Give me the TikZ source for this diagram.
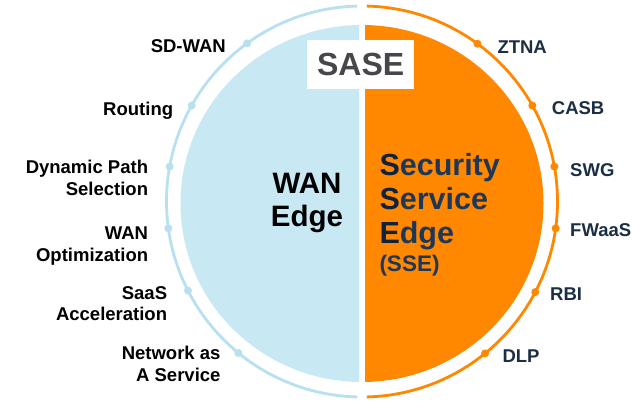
\documentclass[tikz,border=0pt]{standalone}
\usepackage{fontspec}
\setmainfont{Liberation Sans}
\definecolor{lblue}{HTML}{C8E8F3}
\definecolor{rblue}{HTML}{B8E0EF}
\definecolor{sorange}{HTML}{FF8800}
\definecolor{navy}{HTML}{1C2E44}
\definecolor{navyd}{HTML}{10213A}
\definecolor{navyl}{HTML}{1E3756}
\definecolor{sasegray}{HTML}{45474B}
\begin{document}
\begin{tikzpicture}[x=1bp,y=1bp,
  bdot/.style={circle,fill=rblue,inner sep=0,minimum size=8bp},
  odot/.style={circle,fill=sorange,inner sep=0,minimum size=8bp},
  rlab/.style={anchor=base west,inner sep=0,text=navy,font=\fontsize{18.5bp}{21.5bp}\selectfont\bfseries},
  llab/.style={anchor=base east,inner sep=0,text=black,align=right,font=\fontsize{18.5bp}{21.5bp}\selectfont\bfseries}]
\useasboundingbox (0,0) rectangle (633,400);
\fill[white] (0,0) rectangle (633,400);
\coordinate (C) at (362,198.5);
\coordinate (I) at (362,196.5);
% halves
\begin{scope}
\clip (0,0) rectangle (359,400);
\fill[lblue] (I) ellipse [x radius=181.5, y radius=178.5];
\end{scope}
\begin{scope}
\clip (365,0) rectangle (633,400);
\fill[sorange] (I) ellipse [x radius=181.5, y radius=178.5];
\end{scope}
% ring
\draw[rblue,line width=2.8bp] ([shift={(91.4:195.5)}]C) arc[start angle=91.4,end angle=268.6,radius=195.5];
\draw[sorange,line width=2.8bp] ([shift={(88.6:195.5)}]C) arc[start angle=88.6,end angle=-88.6,radius=195.5];
% dots
\node[bdot] (l1) at ([shift={(126:195.5)}]C) {};
\node[bdot] (l2) at ([shift={(150.6:195.5)}]C) {};
\node[bdot] (l3) at ([shift={(169.7:195.5)}]C) {};
\node[bdot] (l4) at ([shift={(187.9:195.5)}]C) {};
\node[bdot] (l5) at ([shift={(207.1:195.5)}]C) {};
\node[bdot] (l6) at ([shift={(230.8:195.5)}]C) {};
\node[odot] (r1) at ([shift={(53.8:195.5)}]C) {};
\node[odot] (r2) at ([shift={(29.4:195.5)}]C) {};
\node[odot] (r3) at ([shift={(10.3:195.5)}]C) {};
\node[odot] (r4) at ([shift={(-7.9:195.5)}]C) {};
\node[odot] (r5) at ([shift={(-27.6:195.5)}]C) {};
\node[odot] (r6) at ([shift={(-51:195.5)}]C) {};
% SASE box
\node[fill=white,inner sep=0,minimum width=107bp,minimum height=49bp,text=sasegray,font=\fontsize{32bp}{36bp}\selectfont\bfseries] (sase) at (360.7,335.5) {SASE};
% right labels
\node[rlab] (ztna) at (497.3,346.7) {ZTNA};
\node[rlab] (casb) at (551.7,285.7) {CASB};
\node[rlab] (swg) at (570,223.3) {SWG};
\node[rlab] (fwaas) at (570,163.3) {FWaaS};
\node[rlab] (rbi) at (550,100) {RBI};
\node[rlab] (dlp) at (502.3,37.7) {DLP};
% left labels (anchor = baseline of last line)
\node[llab] (sdwan) at (226,347.7) {SD-WAN};
\node[llab] (routing) at (173.3,284.3) {Routing};
\node[llab] (dps) at (148.3,205) {Dynamic Path\\Selection};
\node[llab] (wano) at (148.3,139) {WAN\\Optimization};
\node[llab] (saas) at (167.3,79.3) {SaaS\\Acceleration};
\node[llab] (naas) at (220.7,19) {Network as\\A Service};
% centre texts
\node[anchor=base,inner sep=0,align=center,text=black,font=\fontsize{29.5bp}{32.7bp}\selectfont\bfseries] (wan) at (307,174) {WAN\\Edge};
\node[anchor=base west,inner sep=0,align=left,text=navyl,font=\fontsize{30.5bp}{34bp}\selectfont\bfseries] (sse) at (379.3,156.7) {\textcolor{navyd}{S}ecurity\\\textcolor{navyd}{S}ervice\\\textcolor{navyd}{E}dge};
\node[anchor=base west,inner sep=0,text=navyl,font=\fontsize{22.5bp}{26bp}\selectfont\bfseries] (ssea) at (379.3,128.3) {(SSE)};
\end{tikzpicture}
\end{document}
